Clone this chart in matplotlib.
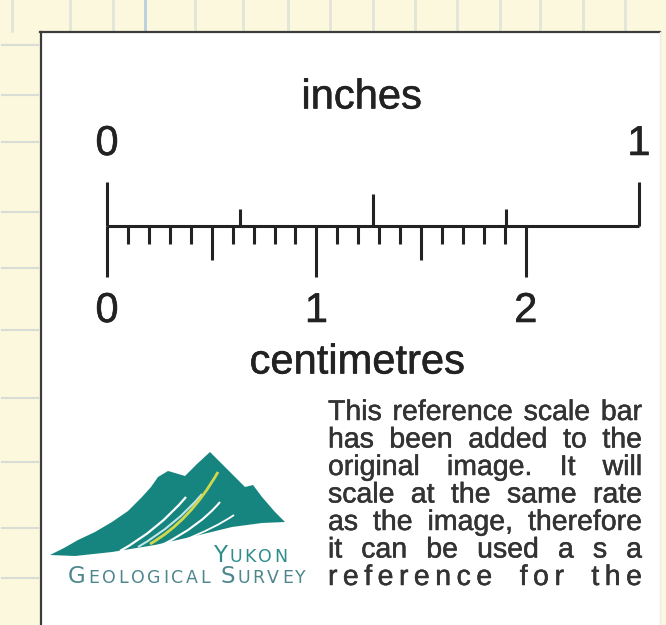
import matplotlib
matplotlib.use("Agg")
import matplotlib.pyplot as plt
import matplotlib.patheffects as pe
from matplotlib.patches import Rectangle, Polygon, PathPatch
from matplotlib.path import Path

W, H = 666, 625

# ruler content
inch_ticks = [0.0, 0.25, 0.5, 0.75, 1.0]
inch_labels = ["0", "1"]
inch_label_pos = [0.0, 1.0]
mm_ticks = list(range(0, 21))
cm_labels = ["0", "1", "2"]
cm_label_pos = [0, 1, 2]
top_title = "inches"
bottom_title = "centimetres"

note_lines = [
    "This reference scale bar",
    "has been added to the",
    "original image. It will",
    "scale at the same rate",
    "as the image, therefore",
    "it can be used a s a",
    "reference for the",
]
logo_top = "YUKON"
logo_bottom = "GEOLOGICAL SURVEY"

# map grid remnants around the panel (pixels)
grid_x = [12, 70, 113, 145, 195, 243, 288, 330, 373, 415, 457, 500, 540, 583, 625]
grid_y = [45, 95, 142, 212, 268, 330, 398, 462, 528, 578]

CM_PX = 209.4      # pixels per centimetre
BAR_X0 = 107       # pixel x of the zero mark
BAR_Y = 226        # pixel y of the ruler line
INK = "#222222"
TEAL = "#17857f"
FONT = "Liberation Sans"
HEAVY = [pe.withStroke(linewidth=0.4, foreground=INK)]

fig = plt.figure(figsize=(W / 100, H / 100), dpi=100)
bg = fig.add_axes([0, 0, 1, 1])
bg.set_xlim(0, W)
bg.set_ylim(H, 0)
bg.axis("off")

bg.add_patch(Rectangle((0, 0), W, H, color="#fbf8dd", zorder=0))
for gx in grid_x:
    c = "#b9cfe0" if gx == 145 else "#e2e6d8"
    bg.plot([gx, gx], [0, 31], color=c, lw=2, zorder=1)
for gy in grid_y:
    bg.plot([2, 38], [gy, gy], color="#d8ddd6", lw=1.5, zorder=1)

# white panel
bg.add_patch(Rectangle((41, 32), 619, H, facecolor="white", edgecolor="none", zorder=2))
bg.plot([41, 41], [32, H], color="#3c3c3c", lw=1.6, zorder=3)
bg.plot([40, 660], [32, 32], color="#3c3c3c", lw=1.6, zorder=3)
bg.plot([660, 660], [32, H], color="#ececec", lw=1.0, zorder=3)

# ruler axes: x in centimetres, y in pixels above the ruler line
sb = fig.add_axes([0, 0, 1, 1])
sb.set_xlim(-BAR_X0 / CM_PX, (W - BAR_X0) / CM_PX)
sb.set_ylim(BAR_Y - H, BAR_Y)
sb.axis("off")
sb.patch.set_alpha(0)

up_len = {0.0: 44, 0.25: 16.5, 0.5: 32, 0.75: 16.5, 1.0: 44}
lw_bar = 2.2
sb.hlines(0, 0, inch_ticks[-1] * 2.54, color=INK, lw=lw_bar)
for f in inch_ticks:
    sb.vlines(f * 2.54, 0, up_len[f], color=INK, lw=lw_bar)
for m in mm_ticks:
    depth = 51 if m % 10 == 0 else (34 if m % 5 == 0 else 18)
    sb.vlines(m / 10, -depth, 0, color=INK, lw=lw_bar)

for lab, f in zip(inch_labels, inch_label_pos):
    sb.text(f * 2.54, 71, lab, ha="center", va="baseline", fontsize=30,
            color=INK, family=FONT, path_effects=HEAVY)
for lab, c in zip(cm_labels, cm_label_pos):
    sb.text(c, -96, lab, ha="center", va="baseline", fontsize=30,
            color=INK, family=FONT, path_effects=HEAVY)

bg.text(361.5, 108.5, top_title, ha="center", va="baseline", fontsize=30,
        color=INK, family=FONT, zorder=5, path_effects=HEAVY)
bg.text(357, 373.5, bottom_title, ha="center", va="baseline", fontsize=30,
        color=INK, family=FONT, zorder=5, path_effects=HEAVY)

renderer = fig.canvas.get_renderer()


def spread(pieces, x0, x1, y, color, family, stroke=0.0):
    """Place (text, size, gap weight) pieces so they fill x0..x1."""
    fx = [pe.withStroke(linewidth=stroke, foreground=color)] if stroke else None
    arts = [bg.text(0, y, t, fontsize=s, color=color, family=family,
                    va="baseline", zorder=5, path_effects=fx)
            for t, s, _ in pieces]
    widths = [a.get_window_extent(renderer).width for a in arts]
    wsum = sum(g for _, _, g in pieces[1:])
    unit = (x1 - x0 - sum(widths)) / wsum
    x = x0
    for i, (a, w) in enumerate(zip(arts, widths)):
        if i:
            x += pieces[i][2] * unit
        a.set_x(x)
        x += w


# justified note
for i, line in enumerate(note_lines):
    y = 420 + 27.5 * i
    if i == len(note_lines) - 1:
        pieces = []
        for word in line.split():
            for ci, ch in enumerate(word):
                gap = 0 if not pieces else (5 if ci == 0 else 1)
                pieces.append((ch, 20.5, gap))
    else:
        pieces = [(w, 20.5, 1) for w in line.split()]
    spread(pieces, 328, 642, y, "#333333", FONT, stroke=0.35)

# logo: mountain
ridge = [(50, 555), (64, 548), (78, 540), (95, 532), (112, 522), (128, 511),
         (142, 497), (151, 487), (158, 477), (168, 471), (175, 473),
         (185, 476), (197, 464), (210, 452), (225, 467), (238, 480),
         (245, 487), (253, 485), (262, 497), (275, 512), (285, 522),
         (262, 523), (232, 527), (195, 536), (155, 545), (112, 552),
         (75, 556)]
bg.add_patch(Polygon(ridge, closed=True, facecolor=TEAL, edgecolor="none", zorder=4))

streaks = [
    ((120, 551), (158, 530), (186, 497), "white", 1.6),
    ((138, 547), (176, 525), (202, 494), "#bfe6ea", 1.5),
    ((150, 544), (190, 521), (218, 472), "#d2d84c", 2.0),
    ((162, 545), (200, 526), (220, 502), "white", 1.5),
    ((182, 541), (215, 528), (234, 515), "white", 1.3),
]
for p0, pc, p1, col, lw in streaks:
    path = Path([p0, pc, p1], [Path.MOVETO, Path.CURVE3, Path.CURVE3])
    bg.add_patch(PathPatch(path, facecolor="none", edgecolor=col, lw=lw, zorder=5))

# logo: small caps lettering
big, small = 16.5, 12.5
pieces = [(ch, big if i == 0 else small, 0 if i == 0 else 1)
          for i, ch in enumerate(logo_top)]
spread(pieces, 213, 287, 562, "#2f8d8e", "DejaVu Sans")
pieces = []
for word in logo_bottom.split():
    for ci, ch in enumerate(word):
        gap = 0 if not pieces else (4 if ci == 0 else 1)
        pieces.append((ch, big if ci == 0 else small, gap))
spread(pieces, 68, 306, 583, "#4d868d", "DejaVu Sans")

fig.savefig("out.png", dpi=100)
